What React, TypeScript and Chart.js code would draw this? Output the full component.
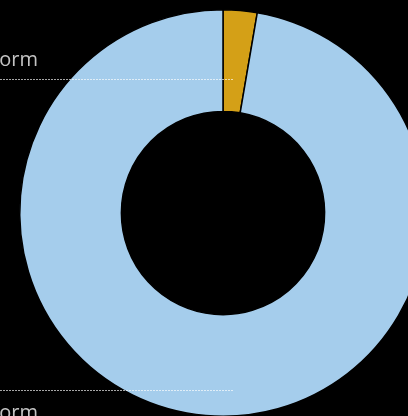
import React, { useEffect, useRef } from "react";
import { Chart, registerables } from "chart.js";

Chart.register(...registerables);

const categories = ["On Platform", "Off Platform"];
const values = [2.7, 97.3];
const colors = ["#D4A017", "#A5CDEC"];
// leader-line placement per label: side (-1 above centre, +1 below), radial fraction within ring
const labelSide = [-1, 1];
const labelFrac = [0.32, 0.74];

const leaderPlugin = {
  id: "leaders",
  beforeDraw(chart: any) {
    const ctx = chart.ctx;
    ctx.save();
    ctx.fillStyle = "#000";
    ctx.fillRect(0, 0, chart.width, chart.height);
    ctx.restore();
  },
  afterDraw(chart: any) {
    const ctx = chart.ctx;
    const meta = chart.getDatasetMeta(0);
    const arc0 = meta.data[0];
    if (!arc0) return;
    const cx = arc0.x;
    const cy = arc0.y;
    const inner = arc0.innerRadius;
    const outer = arc0.outerRadius;
    const endX = cx + 0.05 * outer;
    const textX = chart.chartArea.left + 19;
    ctx.save();
    categories.forEach((label, i) => {
      const y = Math.round(cy + labelSide[i] * (inner + labelFrac[i] * (outer - inner))) + 0.5;
      ctx.beginPath();
      ctx.setLineDash([2, 1]);
      ctx.lineWidth = 1;
      ctx.strokeStyle = "rgba(255,255,255,0.65)";
      ctx.moveTo(0, y);
      ctx.lineTo(endX, y);
      ctx.stroke();
      ctx.setLineDash([]);
      ctx.fillStyle = "#C4C4C4";
      ctx.font = "20px 'Open Sans', sans-serif";
      ctx.textAlign = "right";
      ctx.textBaseline = "alphabetic";
      const ty = labelSide[i] < 0 ? y - 14 : y + 28;
      ctx.fillText(label, textX, ty);
    });
    ctx.restore();
  },
};

export default function App() {
  const ref = useRef<HTMLCanvasElement | null>(null);
  useEffect(() => {
    document.body.style.margin = "0";
    document.body.style.background = "#000";
    document.body.style.overflow = "hidden";
    const chart = new Chart(ref.current as HTMLCanvasElement, {
      type: "doughnut",
      data: {
        labels: categories,
        datasets: [
          {
            data: values,
            backgroundColor: colors,
            borderColor: "#000",
            borderWidth: 1.5,
          },
        ],
      },
      options: {
        animation: false,
        responsive: false,
        cutout: "50%",
        layout: { padding: { left: 19, right: 19, top: 9, bottom: 9 } },
        plugins: {
          legend: { display: false },
          tooltip: { enabled: false },
        },
      },
      plugins: [leaderPlugin],
    });
    return () => chart.destroy();
  }, []);
  return (
    <div style={{ position: "fixed", left: 0, top: 0, width: 408, height: 416, overflow: "hidden", background: "#000" }}>
      <canvas ref={ref} width={446} height={426} style={{ position: "absolute", left: 0, top: 0, width: 446, height: 426 }} />
    </div>
  );
}
